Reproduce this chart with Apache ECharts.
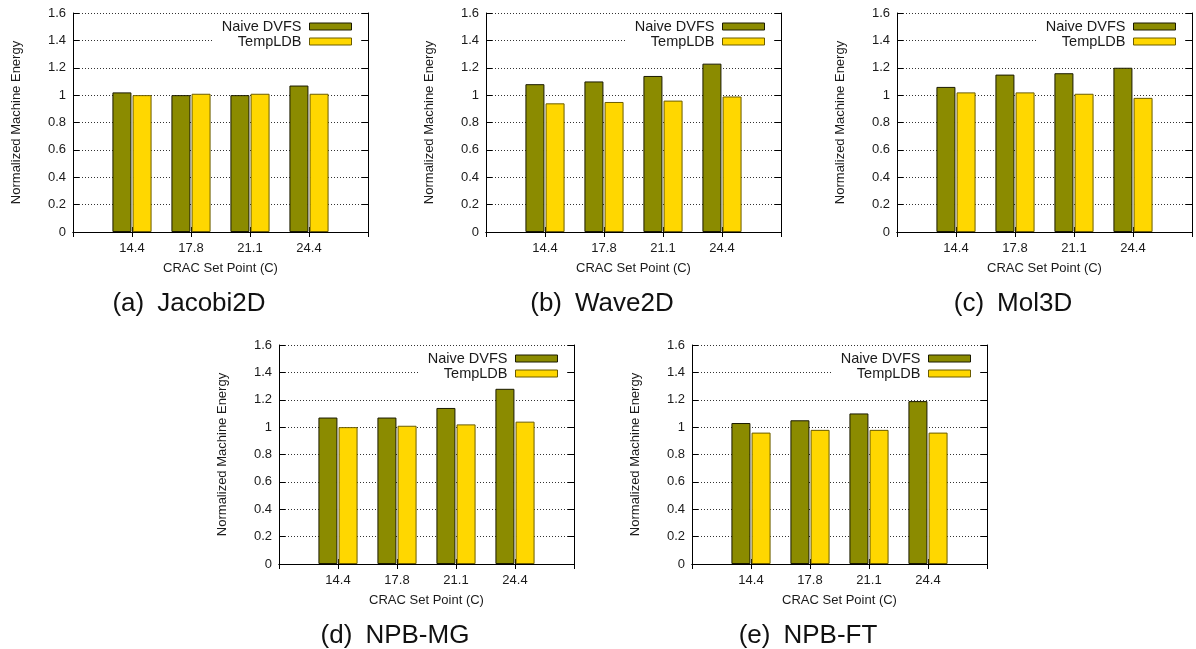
<!doctype html>
<html>
	<head>
		<meta charset="utf-8">
		<title></title>
		<script src="https://cdn.jsdelivr.net/npm/echarts@6/dist/echarts.min.js"></script>
		<style>
			html, body {
				margin: 0px;
				padding: 0px;
				background: #fff;
			}
			#main {
				width: 1196px;
				height: 649px;
			}
		</style>
	</head>

	<body>
		<div id="main"></div>
	</body>

	<script type="text/javascript">
		//x轴类目 (CRAC 设定温度)
		var categories = ['14.4', '17.8', '21.1', '24.4'];
		//图例名
		var seriesNames = ['Naive DVFS', 'TempLDB'];
		//子图标题
		var panelTags = ['(a)', '(b)', '(c)', '(d)', '(e)'];
		var benchNames = ['Jacobi2D', 'Wave2D', 'Mol3D', 'NPB-MG', 'NPB-FT'];
		//y轴刻度
		var yMin = 0;
		var yMax = 1.6;
		var yStep = 0.2;

		//各子图数据
		var naiveJacobi = [1.02, 1.00, 1.00, 1.07];
		var templdbJacobi = [1.00, 1.01, 1.01, 1.01];
		var naiveWave = [1.08, 1.10, 1.14, 1.23];
		var templdbWave = [0.94, 0.95, 0.96, 0.99];
		var naiveMol = [1.06, 1.15, 1.16, 1.20];
		var templdbMol = [1.02, 1.02, 1.01, 0.98];
		var naiveMG = [1.07, 1.07, 1.14, 1.28];
		var templdbMG = [1.00, 1.01, 1.02, 1.04];
		var naiveFT = [1.03, 1.05, 1.10, 1.19];
		var templdbFT = [0.96, 0.98, 0.98, 0.96];

		var naiveData = [naiveJacobi, naiveWave, naiveMol, naiveMG, naiveFT];
		var templdbData = [templdbJacobi, templdbWave, templdbMol, templdbMG, templdbFT];

		//子图绘图区左上角位置
		var panelPos = [[73, 13], [486, 13], [897, 13], [279, 345], [692, 345]];
		var W = 295;
		var H = 219;
		var font = '"Liberation Sans", Arial, Helvetica, sans-serif';
		var textColor = '#1a1a1a';

		var byId = function(id) {
			return document.getElementById(id);
		};

		var chart = echarts.init(byId('main'));

		//两端留空, 与原图 x 范围 [-1, 4] 一致
		var xData = [''].concat(categories, ['']);
		var pad = function(arr) {
			return ['-'].concat(arr, ['-']);
		};

		var option = {
			animation: false,
			backgroundColor: '#fff',
			textStyle: {
				fontFamily: font
			},
			grid: [],
			xAxis: [],
			yAxis: [],
			legend: [],
			series: [],
			graphic: []
		};

		panelPos.forEach(function(p, i) {
			option.grid.push({
				left: p[0],
				top: p[1],
				width: W,
				height: H,
				containLabel: false
			});
			//下方x轴
			option.xAxis.push({
				type: 'category',
				gridIndex: i,
				data: xData,
				boundaryGap: false,
				position: 'bottom',
				name: 'CRAC Set Point (C)',
				nameLocation: 'middle',
				nameGap: 30,
				nameTextStyle: {
					fontSize: 13,
					color: textColor
				},
				axisLine: {
					lineStyle: {
						color: '#000',
						width: 1
					}
				},
				axisTick: {
					inside: true,
					length: 5,
					interval: 0,
					lineStyle: {
						color: '#000'
					}
				},
				axisLabel: {
					interval: 0,
					fontSize: 13,
					margin: 10,
					color: textColor
				},
				splitLine: {
					show: false
				}
			});
			//上方镜像x轴
			option.xAxis.push({
				type: 'category',
				gridIndex: i,
				data: xData,
				boundaryGap: false,
				position: 'top',
				axisLine: {
					lineStyle: {
						color: '#000',
						width: 1
					}
				},
				axisTick: {
					inside: true,
					length: 5,
					interval: 0,
					lineStyle: {
						color: '#000'
					}
				},
				axisLabel: {
					show: false
				},
				splitLine: {
					show: false
				}
			});
			//左侧y轴
			option.yAxis.push({
				type: 'value',
				gridIndex: i,
				min: yMin,
				max: yMax,
				interval: yStep,
				position: 'left',
				name: 'Normalized Machine Energy',
				nameLocation: 'middle',
				nameGap: 50,
				nameTextStyle: {
					fontSize: 13,
					color: textColor
				},
				axisLine: {
					show: true,
					lineStyle: {
						color: '#000',
						width: 1
					}
				},
				axisTick: {
					show: true,
					inside: true,
					length: 6,
					lineStyle: {
						color: '#000'
					}
				},
				axisLabel: {
					fontSize: 13,
					margin: 7,
					color: textColor
				},
				splitLine: {
					show: true,
					lineStyle: {
						type: [1, 2],
						color: '#333',
						width: 1
					}
				}
			});
			//右侧镜像y轴
			option.yAxis.push({
				type: 'value',
				gridIndex: i,
				min: yMin,
				max: yMax,
				interval: yStep,
				position: 'right',
				axisLine: {
					show: true,
					lineStyle: {
						color: '#000',
						width: 1
					}
				},
				axisTick: {
					show: true,
					inside: true,
					length: 6,
					lineStyle: {
						color: '#000'
					}
				},
				axisLabel: {
					show: false
				},
				splitLine: {
					show: false
				}
			});

			option.series.push({
				name: seriesNames[0],
				type: 'bar',
				xAxisIndex: i * 2,
				yAxisIndex: i * 2,
				data: pad(naiveData[i]),
				barWidth: 19,
				barGap: '6%',
				itemStyle: {
					color: '#8b8b00',
					borderColor: '#1a1a00',
					borderWidth: 1
				}
			});
			option.series.push({
				name: seriesNames[1],
				type: 'bar',
				xAxisIndex: i * 2,
				yAxisIndex: i * 2,
				data: pad(templdbData[i]),
				barWidth: 19,
				barGap: '6%',
				itemStyle: {
					color: '#ffd700',
					borderColor: '#6b5c00',
					borderWidth: 1
				}
			});

			option.legend.push({
				data: seriesNames,
				orient: 'vertical',
				align: 'right',
				icon: 'rect',
				right: 1196 - (p[0] + W - 8),
				top: p[1] + 2,
				itemWidth: 42,
				itemHeight: 7,
				itemGap: 0,
				padding: [4, 8, 4, 8],
				backgroundColor: '#fff',
				selectedMode: false,
				itemStyle: {
					borderWidth: 1
				},
				textStyle: {
					fontSize: 14.5,
					lineHeight: 13,
					color: textColor,
					padding: [0, 3, 0, 0]
				}
			});

			//子图标题
			option.graphic.push({
				type: 'text',
				x: p[0] + 116,
				y: p[1] + 291,
				style: {
					text: panelTags[i] + '\u2002' + benchNames[i],
					font: '26px ' + font,
					fill: '#111',
					align: 'center',
					verticalAlign: 'middle',
					textAlign: 'center',
					textVerticalAlign: 'middle'
				}
			});
		});

		chart.setOption(option);
	</script>

</html>
